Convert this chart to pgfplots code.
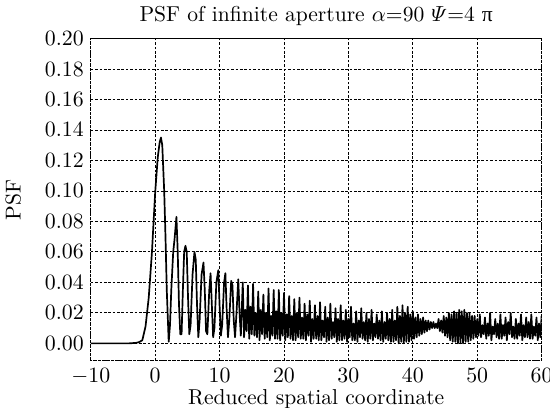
\documentclass[border=0pt]{standalone}
\usepackage{pgfplots}
\pgfplotsset{compat=1.18}
\usepackage{amsmath}
\usepackage{fontspec}
\newfontfamily\grk{Liberation Serif}
\begin{document}
\begin{tikzpicture}
\begin{axis}[
  scale only axis,
  width=226pt, height=161.6pt,
  xmin=-10, xmax=60, ymin=-0.0115, ymax=0.20,
  xtick={-10,0,10,20,30,40,50,60},
  ytick={0,0.02,0.04,0.06,0.08,0.10,0.12,0.14,0.16,0.18,0.20},
  yticklabel style={/pgf/number format/fixed,/pgf/number format/fixed zerofill,/pgf/number format/precision=2},
  scaled y ticks=false,
  major tick length=0pt,
  grid=major,
  grid style={black, line width=0.4pt, dash pattern=on 1.3pt off 0.9pt},
  axis line style={black, line width=0.5pt, dash pattern=on 1.8pt off 0.4pt},
  title={PSF of infinite aperture $\alpha$=90 $\varPsi$=4 {\grk π}},
  title style={yshift=-3pt, font=\fontsize{10.8}{13}\selectfont},
  xlabel={Reduced spatial coordinate},
  ylabel={PSF},
  label style={font=\fontsize{10.8}{13}\selectfont},
  xlabel style={yshift=4pt},
  ylabel style={yshift=5pt},
  ticklabel style={font=\fontsize{10.8}{13}\selectfont},
]
\addplot[black, line width=0.85pt, line join=round] coordinates {
(-10,0) (-4,0) (-3,0.0003) (-2.5,0.0008) (-2,0.002) (-1.5,0.011) (-1,0.03) (-0.5,0.06) (0,0.099) (0.4,0.122) (0.7,0.132) (0.9,0.135) (1.1,0.13) (1.4,0.1) (1.6,0.07) (1.8,0.035) (2.1,0.001)
(2.3,0.012) (2.5,0.035) (2.8,0.06) (3.0,0.068) (3.3,0.083) (3.5,0.06) (3.7,0.025) (3.9,0.006) (4.1,0.006) (4.3,0.035) (4.5,0.06) (4.7,0.064) (4.9,0.06) (5.1,0.03) (5.3,0.006) (5.5,0.012) (5.8,0.045) (6.1,0.06) (6.3,0.055) (6.5,0.025) (6.7,0.004) (6.9,0.015) (7.2,0.045) (7.5,0.053) (7.7,0.035) (7.9,0.008) (8.1,0.006) (8.4,0.035) (8.6,0.046) (8.8,0.025) (9.0,0.004) (9.2,0.01) (9.5,0.04) (9.8,0.048) (10.0,0.025) (10.2,0.005) (10.4,0.012) (10.7,0.04) (10.9,0.046) (11.1,0.022) (11.3,0.004) (11.5,0.015) (11.8,0.041) (12.0,0.038) (12.2,0.015) (12.4,0.004) (12.6,0.018) (12.9,0.042) (13.1,0.02) (13.3,0.005)
(13.6,0.040) (13.8,0.004) (14.0,0.022) (14.2,0.008)
(14.4,0.038) (14.6,0.003) (14.8,0.024) (15.0,0.006)
(15.2,0.039) (15.4,0.005) (15.6,0.020) (15.8,0.004)
(16.0,0.034) (16.2,0.002) (16.4,0.022) (16.6,0.006)
(16.8,0.032) (17.0,0.003) (17.2,0.020) (17.4,0.004)
(17.6,0.036) (17.8,0.002) (18.0,0.018) (18.2,0.005)
(18.4,0.035) (18.6,0.003) (18.8,0.021) (19.0,0.003)
(19.2,0.035) (19.4,0.002) (19.6,0.020) (19.8,0.005)
(20.0,0.033) (20.2,0.002) (20.4,0.019) (20.6,0.004)
(20.8,0.031) (21.0,0.003) (21.2,0.018) (21.4,0.002)
(21.6,0.029) (21.8,0.002) (22.0,0.020) (22.2,0.004)
(22.4,0.030) (22.6,0.003) (22.8,0.017) (23.0,0.003)
(23.2,0.026) (23.4,0.002) (23.6,0.019) (23.8,0.005)
(24.0,0.028) (24.2,0.001) (24.4,0.016) (24.6,0.003)
(24.8,0.025) (25.0,0.003) (25.2,0.018) (25.4,0.002)
(25.6,0.027) (25.8,0.002) (26.0,0.015) (26.2,0.004)
(26.4,0.024) (26.6,0.001) (26.8,0.017) (27.0,0.002)
(27.2,0.026) (27.4,0.003) (27.6,0.014) (27.8,0.004)
(28.0,0.023) (28.2,0.001) (28.4,0.016) (28.6,0.002)
(28.8,0.025) (29.0,0.002) (29.2,0.015) (29.4,0.003)
(29.6,0.022) (29.8,0.001) (30.0,0.016) (30.2,0.004)
(30.4,0.024) (30.6,0.002) (30.8,0.013) (31.0,0.002)
(31.2,0.021) (31.4,0.001) (31.6,0.015) (31.8,0.004)
(32.0,0.023) (32.2,0.003) (32.4,0.014) (32.6,0.002)
(32.8,0.020) (33.0,0.001) (33.2,0.016) (33.4,0.003)
(33.6,0.022) (33.8,0.002) (34.0,0.013) (34.2,0.004)
(34.4,0.019) (34.6,0.003) (34.8,0.015) (35.0,0.002)
(35.2,0.021) (35.4,0.001) (35.6,0.014) (35.8,0.003)
(36.0,0.020) (36.2,0.002) (36.4,0.016) (36.6,0.001)
(36.8,0.022) (37.0,0.001) (37.2,0.015) (37.4,0.002)
(37.6,0.024) (37.8,0.000) (38.0,0.018) (38.2,0.001)
(38.4,0.025) (38.6,0.000) (38.8,0.020) (39.0,0.001)
(39.2,0.024) (39.4,0.001) (39.6,0.019) (39.8,0.002)
(40.0,0.021) (40.2,0.003) (40.4,0.017) (40.6,0.004)
(40.8,0.019) (41.0,0.005) (41.2,0.016) (41.4,0.006)
(41.6,0.017) (41.8,0.007) (42.0,0.015) (42.2,0.008)
(42.4,0.015) (42.6,0.009) (42.8,0.014) (43.0,0.010)
(43.2,0.014) (43.4,0.010) (43.6,0.013) (43.8,0.010)
(44.0,0.016) (44.2,0.008) (44.4,0.015) (44.6,0.007)
(44.8,0.018) (45.0,0.005) (45.2,0.017) (45.4,0.004)
(45.6,0.020) (45.8,0.002) (46.0,0.019) (46.2,0.001)
(46.4,0.021) (46.6,0.001) (46.8,0.020) (47.0,0.000)
(47.2,0.022) (47.4,0.000) (47.6,0.021) (47.8,0.000)
(48.0,0.022) (48.2,0.001) (48.4,0.020) (48.6,0.001)
(48.8,0.020) (49.0,0.002) (49.2,0.018) (49.4,0.003)
(49.6,0.018) (49.8,0.004) (50.0,0.016) (50.2,0.005)
(50.4,0.019) (50.6,0.004) (50.8,0.012) (51.0,0.006)
(51.2,0.017) (51.4,0.003) (51.6,0.013) (51.8,0.005)
(52.0,0.020) (52.2,0.002) (52.4,0.011) (52.6,0.006)
(52.8,0.016) (53.0,0.004) (53.2,0.013) (53.4,0.003)
(53.6,0.019) (53.8,0.003) (54.0,0.012) (54.2,0.005)
(54.4,0.017) (54.6,0.002) (54.8,0.014) (55.0,0.006)
(55.2,0.020) (55.4,0.004) (55.6,0.011) (55.8,0.003)
(56.0,0.016) (56.2,0.003) (56.4,0.013) (56.6,0.005)
(56.8,0.019) (57.0,0.002) (57.2,0.012) (57.4,0.004)
(57.6,0.017) (57.8,0.004) (58.0,0.014) (58.2,0.003)
(58.4,0.019) (58.6,0.003) (58.8,0.011) (59.0,0.005)
(59.2,0.017) (59.4,0.002) (59.6,0.013) (59.8,0.004)
(60.0,0.018)
};
\coordinate (bl) at (rel axis cs:0,0);
\coordinate (tr) at (rel axis cs:1,1);
\end{axis}
\pgfresetboundingbox
\path (bl) ++(-45.5pt,-23.2pt) coordinate (BL);
\path (tr) ++(4.2pt,19.3pt) coordinate (TR);
\path[use as bounding box] (BL) rectangle (TR);
\end{tikzpicture}
\end{document}
